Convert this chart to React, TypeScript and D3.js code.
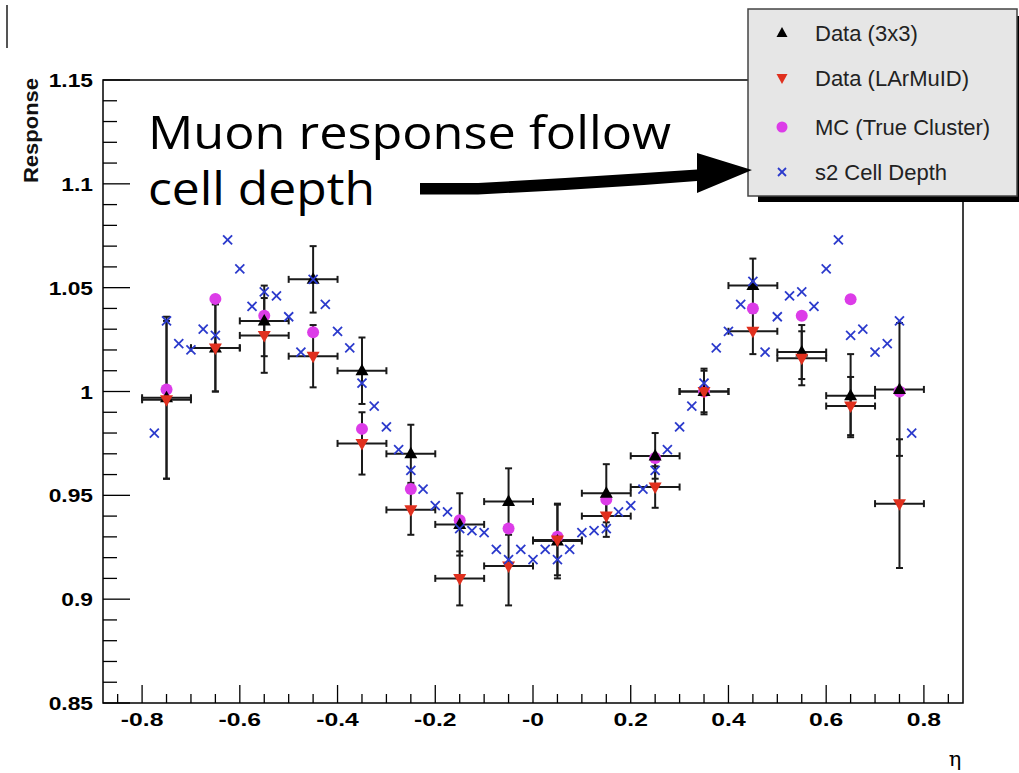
import React from "react";
import * as d3 from "d3";

// ---------- data ----------
const binEta = [-0.75, -0.65, -0.55, -0.45, -0.35, -0.25, -0.15, -0.05, 0.05, 0.15, 0.25, 0.35, 0.45, 0.55, 0.65, 0.75];
const binHalfWidth = 0.05;

const data3x3 = [0.997, 1.021, 1.034, 1.054, 1.010, 0.970, 0.936, 0.947, 0.928, 0.951, 0.969, 1.000, 1.051, 1.019, 0.998, 1.001];
const data3x3Err = [0.039, 0.021, 0.017, 0.016, 0.016, 0.014, 0.015, 0.016, 0.018, 0.014, 0.011, 0.011, 0.013, 0.013, 0.020, 0.032];

const dataLAr = [0.996, 1.021, 1.027, 1.017, 0.975, 0.943, 0.910, 0.916, 0.9285, 0.940, 0.954, 1.000, 1.029, 1.016, 0.993, 0.946];
const dataLArErr = [0.038, 0.021, 0.018, 0.015, 0.015, 0.012, 0.013, 0.019, 0.017, 0.010, 0.010, 0.010, 0.011, 0.013, 0.014, 0.031];

const mcTrue = [1.001, 1.0446, 1.0365, 1.0285, 0.982, 0.953, 0.938, 0.934, 0.930, 0.948, 0.968, 1.000, 1.040, 1.0365, 1.0444, 1.000];

const cellEta = [
  -0.775, -0.75, -0.725, -0.7, -0.675, -0.65, -0.625, -0.6, -0.575, -0.55, -0.525, -0.5, -0.475, -0.45, -0.425, -0.4,
  -0.375, -0.35, -0.325, -0.3, -0.275, -0.25, -0.225, -0.2, -0.175, -0.15, -0.125, -0.1, -0.075, -0.05, -0.025, 0,
  0.025, 0.05, 0.075, 0.1, 0.125, 0.15, 0.175, 0.2, 0.225, 0.25, 0.275, 0.3, 0.325, 0.35, 0.375, 0.4,
  0.425, 0.45, 0.475, 0.5, 0.525, 0.55, 0.575, 0.6, 0.625, 0.65, 0.675, 0.7, 0.725, 0.75, 0.775,
];
const cellDepth = [
  0.980, 1.034, 1.023, 1.020, 1.030, 1.027, 1.073, 1.059, 1.041, 1.048, 1.046, 1.036, 1.019, 1.054, 1.042, 1.029,
  1.021, 1.004, 0.993, 0.983, 0.972, 0.962, 0.953, 0.945, 0.942, 0.934, 0.933, 0.932, 0.924, 0.919, 0.924, 0.919,
  0.924, 0.919, 0.924, 0.932, 0.933, 0.934, 0.942, 0.945, 0.953, 0.962, 0.972, 0.983, 0.993, 1.004, 1.021, 1.029,
  1.042, 1.053, 1.019, 1.036, 1.046, 1.048, 1.041, 1.059, 1.073, 1.027, 1.030, 1.019, 1.023, 1.034, 0.980,
];

const xTickValues = [-0.8, -0.6, -0.4, -0.2, 0, 0.2, 0.4, 0.6, 0.8];
const xTickLabels = ["-0.8", "-0.6", "-0.4", "-0.2", "-0", "0.2", "0.4", "0.6", "0.8"];
const yTickValues = [0.85, 0.9, 0.95, 1.0, 1.05, 1.1, 1.15];
const yTickLabels = ["0.85", "0.9", "0.95", "1", "1.05", "1.1", "1.15"];

const legendLabels = ["Data (3x3)", "Data (LArMuID)", "MC (True Cluster)", "s2 Cell Depth"];
const annotationLines = ["Muon response follow", "cell depth"];

// ---------- styles ----------
const C_BLACK = "#000000";
const C_RED = "#e0301e";
const C_MAG = "#dc3ce8";
const C_BLUE = "#2b3acc";
const ERR = "#1a1a1a";

const upTri = "M0,-7L6.5,4.5L-6.5,4.5Z";
const downTri = "M0,7L6.5,-4.5L-6.5,-4.5Z";

function Cross({ cx, cy, s = 4.5 }: { cx: number; cy: number; s?: number }) {
  return (
    <g stroke={C_BLUE} strokeWidth={1.8}>
      <line x1={cx - s} y1={cy - s} x2={cx + s} y2={cy + s} />
      <line x1={cx - s} y1={cy + s} x2={cx + s} y2={cy - s} />
    </g>
  );
}

export default function App() {
  const W = 1019;
  const H = 773;
  const x = d3.scaleLinear().domain([-0.88, 0.88]).range([103, 963]);
  const y = d3.scaleLinear().domain([0.85, 1.15]).range([703, 80]);
  const [x0, x1] = x.range();
  const [y0, y1] = y.range();

  const yMinor = d3.range(0, 31).map((i) => 0.85 + i * 0.01);
  const xMinor = d3.range(0, 35).map((i) => -0.85 + i * 0.05);

  const errBars = (vals: number[], errs: number[], key: string) =>
    binEta.map((e, i) => {
      const cx = x(e);
      const cy = y(vals[i]);
      const xl = x(e - binHalfWidth);
      const xr = x(e + binHalfWidth);
      const yt = y(vals[i] + errs[i]);
      const yb = y(vals[i] - errs[i]);
      const c = 3.5;
      return (
        <g key={key + i} stroke={ERR} strokeWidth={2}>
          <line x1={xl} y1={cy} x2={xr} y2={cy} />
          <line x1={xl} y1={cy - c} x2={xl} y2={cy + c} />
          <line x1={xr} y1={cy - c} x2={xr} y2={cy + c} />
          <line x1={cx} y1={yt} x2={cx} y2={yb} />
          <line x1={cx - c} y1={yt} x2={cx + c} y2={yt} />
          <line x1={cx - c} y1={yb} x2={cx + c} y2={yb} />
        </g>
      );
    });

  const legendRowY = [33, 78, 127, 172];

  return (
    <svg
      width={W}
      height={H}
      style={{ position: "absolute", left: 0, top: 0, background: "#fff" }}
      fontFamily="'Liberation Sans', Arial, sans-serif"
    >
      <rect x={0} y={0} width={W} height={H} fill="#fff" />
      {/* stray mark top-left */}
      <line x1={7} y1={5} x2={7} y2={48} stroke="#555" strokeWidth={2} />

      {/* frame */}
      <rect x={x0} y={y1} width={x1 - x0} height={y0 - y1} fill="none" stroke="#000" strokeWidth={1.5} />

      {/* y ticks */}
      {yMinor.map((v, i) => {
        const major = i % 5 === 0;
        return (
          <line key={"ym" + i} x1={x0} x2={x0 + (major ? 27 : 14)} y1={y(v)} y2={y(v)} stroke="#000" strokeWidth={1.3} />
        );
      })}
      {/* x ticks */}
      {xMinor.map((v, i) => {
        const major = Math.abs(Math.round(v * 100) % 20) === 0;
        return (
          <line key={"xm" + i} x1={x(v)} x2={x(v)} y1={y0} y2={y0 - (major ? 18 : 9)} stroke="#000" strokeWidth={1.3} />
        );
      })}

      {/* y tick labels */}
      {yTickValues.map((v, i) => (
        <text
          key={"yl" + i}
          transform={`translate(93,${y(v) + 7}) scale(1.2,1)`}
          textAnchor="end"
          fontSize={19}
          fontWeight="bold"
          fill="#000"
        >
          {yTickLabels[i]}
        </text>
      ))}
      {/* x tick labels */}
      {xTickValues.map((v, i) => (
        <text
          key={"xl" + i}
          transform={`translate(${x(v)},726) scale(1.3,1)`}
          textAnchor="middle"
          fontSize={19}
          fontWeight="bold"
          fill="#000"
        >
          {xTickLabels[i]}
        </text>
      ))}

      {/* axis titles */}
      <text
        transform="translate(38,183) rotate(-90)"
        textAnchor="start"
        fontSize={21}
        fontWeight="bold"
        textLength={105}
        lengthAdjust="spacingAndGlyphs"
        fill="#111"
      >
        Response
      </text>
      <text x={955} y={766} textAnchor="middle" fontSize={21} fontFamily="'DejaVu Serif', serif" fill="#000">
        η
      </text>

      {/* error bars */}
      {errBars(data3x3, data3x3Err, "eb")}
      {errBars(dataLAr, dataLArErr, "er")}

      {/* MC circles */}
      {binEta.map((e, i) => (
        <circle key={"mc" + i} cx={x(e)} cy={y(mcTrue[i])} r={6} fill={C_MAG} />
      ))}
      {/* data 3x3 */}
      {binEta.map((e, i) => (
        <path key={"d3" + i} d={upTri} transform={`translate(${x(e)},${y(data3x3[i])})`} fill={C_BLACK} />
      ))}
      {/* data LArMuID */}
      {binEta.map((e, i) => (
        <path key={"dl" + i} d={downTri} transform={`translate(${x(e)},${y(dataLAr[i])})`} fill={C_RED} />
      ))}
      {/* cell depth */}
      {cellEta.map((e, i) => (
        <Cross key={"cd" + i} cx={x(e)} cy={y(cellDepth[i])} />
      ))}

      {/* legend */}
      <rect x={758} y={16} width={265} height={186} fill="#000" />
      <rect x={748} y={9} width={269} height={187} fill="#e6e6e6" stroke="#444" strokeWidth={1.5} />
      <path d="M0,-6L5.5,4L-5.5,4Z" transform={`translate(782,${legendRowY[0]})`} fill={C_BLACK} />
      <path d="M0,6L5.5,-4L-5.5,-4Z" transform={`translate(782,${legendRowY[1]})`} fill={C_RED} />
      <circle cx={782} cy={legendRowY[2]} r={5.5} fill={C_MAG} />
      <Cross cx={782} cy={legendRowY[3]} s={4} />
      {legendLabels.map((t, i) => (
        <text key={"lg" + i} x={815} y={legendRowY[i] + 8} fontSize={22} fill="#222">
          {t}
        </text>
      ))}

      {/* annotation */}
      <g fontFamily="'Open Sans', 'Noto Sans', sans-serif" fill="#000">
        <text x={148} y={149} fontSize={46} textLength={523} lengthAdjust="spacingAndGlyphs">
          {annotationLines[0]}
        </text>
        <text x={148} y={205} fontSize={46} textLength={227} lengthAdjust="spacingAndGlyphs">
          {annotationLines[1]}
        </text>
      </g>
      <polygon
        points="420,183 478,183 565,178 644,173 697,169.5 697,153 752,170 697,193 697,181 644,185 565,190 478,194.5 420,194.5"
        fill="#000"
      />
    </svg>
  );
}
